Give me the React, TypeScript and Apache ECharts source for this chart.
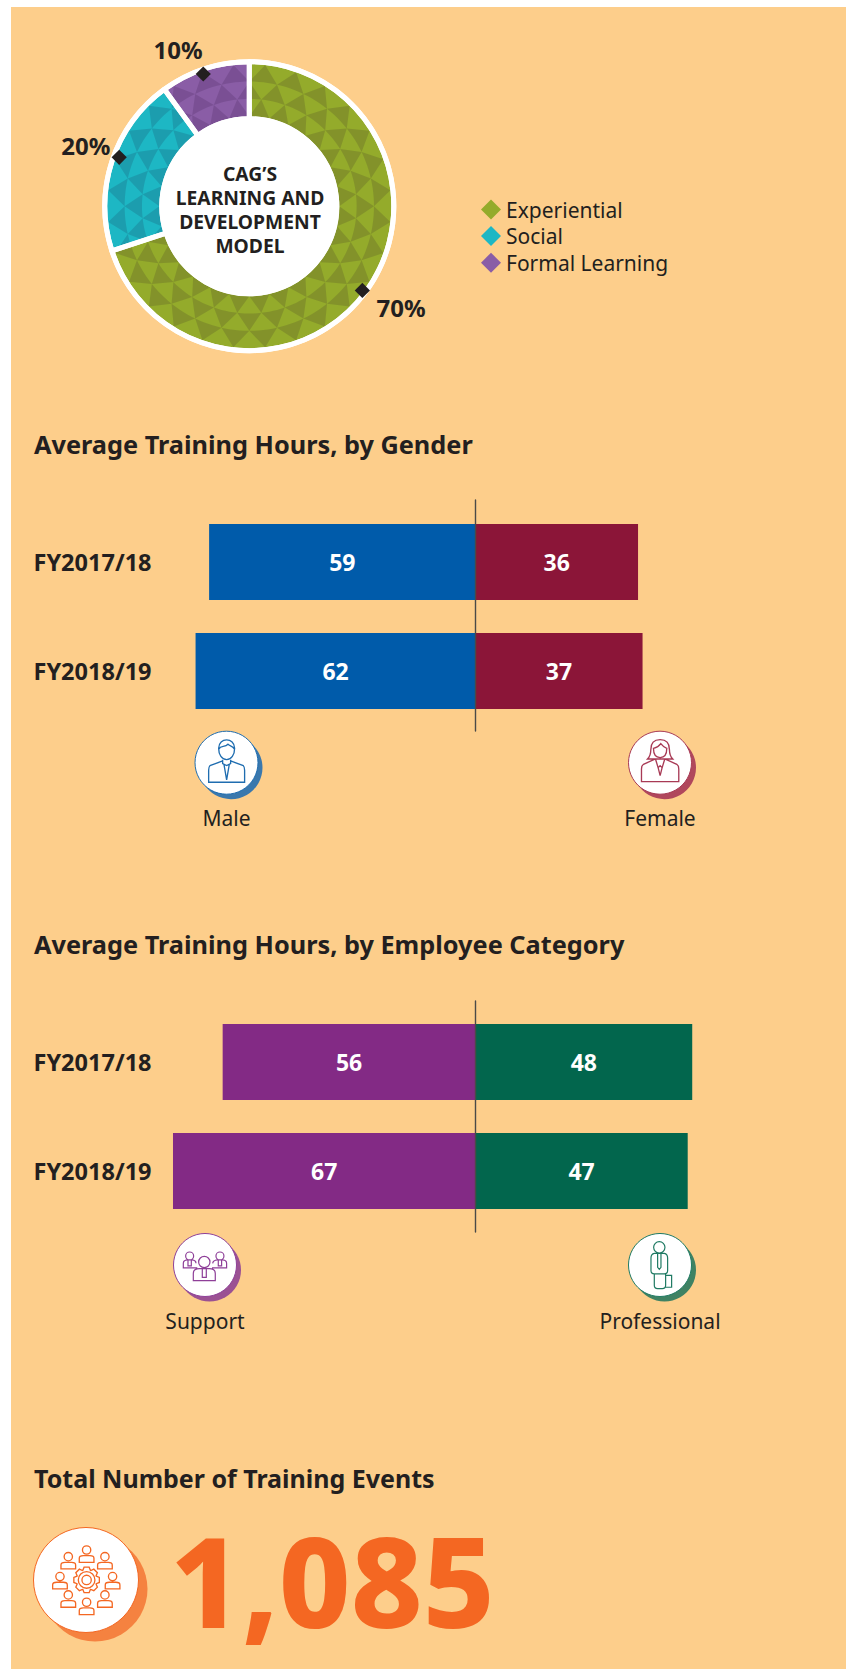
import React, { useEffect, useRef } from "react";
import * as echarts from "echarts";

const modelNames = ["Experiential", "Social", "Formal Learning"];
const modelValues = [70, 20, 10];
const modelColors = ["#94AB2B", "#1DB7C4", "#8A5DA6"];
const years = ["FY2017/18", "FY2018/19"];
const maleHours = [59, 62];
const femaleHours = [36, 37];
const supportHours = [56, 67];
const professionalHours = [48, 47];
const totalEvents = "1,085";

const FONT = "'Noto Sans', sans-serif";
const INK = "#231F20";
const CX = 249.3, CY = 206.2;
const R_IN = 90, R_OUT = 142;
const AXIS_X = 475.5, PX_PER_HOUR = 4.515, AXIS_SPAN = 80;
const GRID_LEFT = AXIS_X - PX_PER_HOUR * AXIS_SPAN;
const GRID_WIDTH = PX_PER_HOUR * AXIS_SPAN * 2;

const circ = (x: number, y: number, r: number) =>
  `M${x - r} ${y}a${r} ${r} 0 1 0 ${2 * r} 0a${r} ${r} 0 1 0 ${-2 * r} 0Z`;
const bust = (x: number, top: number, hw: number, h: number) =>
  `M${x - hw} ${top + h}V${top + h * 0.4}Q${x - hw} ${top} ${x - hw * 0.45} ${top}H${x + hw * 0.45}Q${x + hw} ${top} ${x + hw} ${top + h * 0.4}V${top + h}Z`;

const maleD =
  "M86 70C86 36 134 36 134 70C134 90 124 104 110 104C96 104 86 90 86 70Z" +
  "M87 72C92 60 104 68 114 58C120 64 128 62 133 72" +
  "M98 108L60 122Q56 126 56 136V172H164V136Q164 126 160 122L122 108" +
  "M98 104V116L110 122L122 116V104M102 118L110 165L118 118";
const femaleD =
  "M110 44C88 44 82 60 82 74C82 88 78 96 72 102H148C142 96 138 88 138 74C138 60 132 44 110 44Z" +
  "M90 70C100 68 108 62 112 56C118 64 124 68 130 70C130 88 122 98 110 98C98 98 90 88 90 70Z" +
  "M96 102L60 118Q54 122 54 132V170H166V132Q166 122 160 118L124 102" +
  "M96 102L104 128L110 122L116 128L124 102M104 128L110 152L116 128";
const supportD =
  circ(103, 102, 17) + bust(103, 122, 33, 36) + "M97 122V148H109V122" +
  circ(59, 84, 12) + "M82 120H40V106Q40 97 52 96H66Q78 97 78 106M54 96V114H64V96" +
  circ(150, 84, 12) + "M126 120H170V106Q170 97 158 96H142Q130 97 128 106M145 96V114H155V96";
const professionalD =
  circ(103, 58, 17) +
  "M88 76H118Q128 78 128 90V128Q128 138 118 138H88Q78 138 78 128V90Q78 78 88 76Z" +
  "M98 78V118L103 124L108 118V78" +
  "M88 138V172Q88 182 98 182H112Q122 182 122 172V138" +
  "M122 142H140V178H122";

const eventHeads = [[170, 75], [115, 95], [225, 95], [90, 155], [248, 155], [115, 210], [225, 210], [170, 232]];
let gearD = circ(170, 165, 25) + circ(170, 165, 14);
{
  const n = 8;
  const pts: string[] = [];
  for (let i = 0; i < n; i++) {
    const a = (i / n) * Math.PI * 2;
    const w = Math.PI / n;
    [[31, -w * 0.95], [39, -w * 0.5], [39, w * 0.5], [31, w * 0.95]].forEach(([r, d]) => {
      pts.push(`${(170 + r * Math.cos(a + d)).toFixed(1)} ${(165 + r * Math.sin(a + d)).toFixed(1)}`);
    });
  }
  gearD += "M" + pts.join("L") + "Z";
}
const eventsD = gearD + eventHeads.map(([x, y]) => circ(x, y, 12.5) + bust(x, y + 17, 22, 20)).join("");

echarts.graphic.registerShape("iconMale", echarts.graphic.extendPath(maleD, {}));
echarts.graphic.registerShape("iconFemale", echarts.graphic.extendPath(femaleD, {}));
echarts.graphic.registerShape("iconSupport", echarts.graphic.extendPath(supportD, {}));
echarts.graphic.registerShape("iconProfessional", echarts.graphic.extendPath(professionalD, {}));
echarts.graphic.registerShape("iconEvents", echarts.graphic.extendPath(eventsD, {}));

const txt = (text: string, x: number, y: number, size: number, weight: any, align = "left", fill = INK, extra: any = {}) => ({
  type: "text",
  z: 20,
  x,
  y,
  silent: true,
  style: { text, fill, font: `${weight} ${size}px ${FONT}`, textAlign: align, textVerticalAlign: "middle", ...extra },
});

const badge = (cx: number, cy: number, r: number, dx: number, dy: number, line: string, shade: string, shape: string, ox: number, oy: number, k: number, sw: number) => [
  { type: "circle", z: 20, silent: true, shape: { cx: cx + dx, cy: cy + dy, r }, style: { fill: shade } },
  { type: "circle", z: 21, silent: true, shape: { cx, cy, r }, style: { fill: "#fff", stroke: line, lineWidth: 1 } },
  { type: shape, z: 22, silent: true, x: ox, y: oy, scaleX: k, scaleY: k, style: { fill: "none", stroke: line, lineWidth: sw } },
];

const polar = (r: number, deg: number) => {
  const a = (deg * Math.PI) / 180;
  return [CX + r * Math.sin(a), CY - r * Math.cos(a)];
};

const ROWS = 3, DIVS = 28;
const triCells: number[][] = [];
for (let row = 0; row < ROWS; row++) for (let i = 0; i < DIVS; i++) triCells.push([row, i]);

const renderTriangle = (_: any, api: any) => {
  const row = api.value(0), i = api.value(1);
  const step = 360 / DIVS;
  const dr = (R_OUT - R_IN) / ROWS;
  const r0 = R_IN + dr * row;
  const r1 = r0 + dr;
  const a0 = i * step + (row % 2 ? step / 2 : 0);
  const pts: number[][] = [];
  for (let k = 0; k <= 6; k++) pts.push(polar(r0, a0 + (step * k) / 6));
  pts.push(polar(r1, a0 + step / 2));
  return { type: "polygon", shape: { points: pts }, style: { fill: "rgba(30,0,40,0.14)" }, silent: true };
};

const markerShift = [0.7, 2.6, -1.2];
const markerRadius = [141, 139, 140];
const labelRadius = [183, 174, 171];
const labelAngleShift = [-2, 2, -6.6];
const total = modelValues.reduce((a, b) => a + b, 0);
const renderMarker = (_: any, api: any) => {
  const idx = api.value(0);
  let before = 0;
  for (let i = 0; i < idx; i++) before += modelValues[i];
  const mid = ((before + modelValues[idx] / 2) / total) * 360;
  const [x, y] = polar(markerRadius[idx], mid + markerShift[idx]);
  const [lx, ly] = polar(labelRadius[idx], mid + labelAngleShift[idx]);
  const d = 7.6;
  return {
    type: "group",
    children: [
      { type: "polygon", shape: { points: [[x, y - d], [x + d, y], [x, y + d], [x - d, y]] }, style: { fill: INK } },
      { type: "text", x: lx, y: ly - 1, style: { text: `${modelValues[idx]}%`, fill: INK, font: `bold 24px ${FONT}`, textAlign: "center", textVerticalAlign: "middle" } },
    ],
  };
};

const hoursGrid = (top: number) => ({ left: GRID_LEFT, width: GRID_WIDTH, top, height: 218 });
const lineGrid = (top: number) => ({ left: GRID_LEFT, width: GRID_WIDTH, top, height: 231 });
const valueX = (gridIndex: number) => ({
  type: "value", gridIndex, min: -AXIS_SPAN, max: AXIS_SPAN, show: false, splitLine: { show: false },
});
const barY = (gridIndex: number) => ({
  type: "category", gridIndex, data: years, inverse: true,
  axisLine: { show: false }, axisTick: { show: false }, splitLine: { show: false },
  axisLabel: { align: "left", margin: GRID_LEFT - 33.5, color: INK, fontFamily: FONT, fontWeight: "bold", fontSize: 23.5 },
});
const centerY = (gridIndex: number) => ({
  type: "value", gridIndex, min: 0, max: 1, z: 10,
  axisLine: { show: true, onZero: true, lineStyle: { color: "#4A4A48", width: 1.4 } },
  axisTick: { show: false }, axisLabel: { show: false }, splitLine: { show: false },
});
const barSeries = (name: string, values: number[], sign: number, color: string, axis: number) => ({
  type: "bar", name, stack: "s" + axis, xAxisIndex: axis, yAxisIndex: axis, barWidth: 76, z: 3,
  data: values.map((v) => v * sign),
  itemStyle: { color },
  silent: true,
  label: {
    show: true, position: "inside", color: "#fff", fontFamily: FONT, fontWeight: "bold", fontSize: 23,
    formatter: (p: any) => String(Math.abs(p.value)),
  },
});

const option: any = {
  animation: false,
  textStyle: { fontFamily: FONT },
  legend: {
    orient: "vertical", left: 481, top: 199, padding: 0, itemWidth: 20, itemHeight: 20, itemGap: 5.6, itemStyle: { borderWidth: 0 },
    icon: "diamond", selectedMode: false,
    textStyle: { color: INK, fontFamily: FONT, fontSize: 21, padding: [0, 0, 0, 0] },
    data: modelNames.map((name, i) => ({ name, itemStyle: { color: modelColors[i] } })),
  },
  grid: [hoursGrid(507.5), lineGrid(500), hoursGrid(1007.5), lineGrid(1001)],
  xAxis: [valueX(0), valueX(1), valueX(2), valueX(3)],
  yAxis: [barY(0), centerY(1), barY(2), centerY(3)],
  series: [
    {
      type: "pie", z: 2, center: [CX, CY], radius: [R_IN, R_OUT], startAngle: 90, silent: true,
      label: { show: false }, labelLine: { show: false },
      data: modelNames.map((name, i) => ({ name, value: modelValues[i], itemStyle: { color: modelColors[i] } })),
    },
    { type: "custom", z: 3, coordinateSystem: "none", silent: true, clip: false, data: triCells, renderItem: renderTriangle },
    {
      type: "pie", z: 4, center: [CX, CY], radius: [R_IN - 2.5, R_OUT + 2.5], startAngle: 90, silent: true,
      label: { show: false }, labelLine: { show: false },
      itemStyle: { color: "rgba(0,0,0,0)", borderColor: "#fff", borderWidth: 5 },
      data: modelNames.map((name, i) => ({ name, value: modelValues[i] })),
    },
    { type: "custom", z: 5, coordinateSystem: "none", silent: true, data: modelValues.map((_, i) => [i]), renderItem: renderMarker },
    barSeries("Male", maleHours, -1, "#005BAA", 0),
    barSeries("Female", femaleHours, 1, "#8B1538", 0),
    barSeries("Support", supportHours, -1, "#832A85", 2),
    barSeries("Professional", professionalHours, 1, "#02664D", 2),
  ],
  graphic: {
    elements: [
      { type: "circle", z: 0, silent: true, shape: { cx: CX, cy: CY, r: R_OUT + 5 }, style: { fill: "#fff" } },
      txt("CAG\u2019S", 250, 173.5, 19.3, "bold", "center"),
      txt("LEARNING AND", 250, 197.5, 19.3, "bold", "center"),
      txt("DEVELOPMENT", 250, 221.5, 19.3, "bold", "center"),
      txt("MODEL", 250, 245.5, 19.3, "bold", "center"),
      txt("Average Training Hours, by Gender", 34, 443.5, 25.3, "bold"),
      txt("Average Training Hours, by Employee Category", 34, 943.5, 25.3, "bold"),
      txt("Total Number of Training Events", 34, 1477.5, 25, "bold"),
      ...badge(226.5, 762.7, 31.5, 4.5, 5, "#1F6DB0", "#3A78AD", "iconMale", 190, 725, 1 / 3, 4),
      ...badge(660, 762.7, 31.5, 4.5, 5, "#A83A55", "#B0475C", "iconFemale", 623.5, 725, 1 / 3, 4),
      ...badge(205, 1265, 31.5, 4.5, 5, "#8E3F98", "#9B5193", "iconSupport", 170, 1228, 1 / 3, 3.6),
      ...badge(660, 1265, 31.5, 4.5, 5, "#1F7A63", "#3F8263", "iconProfessional", 625, 1228, 1 / 3, 3.6),
      ...badge(86, 1580, 52.5, 9, 9, "#F46722", "#F58240", "iconEvents", 30, 1525, 1 / 3, 4),
      txt("Male", 226.5, 818, 21, "normal", "center"),
      txt("Female", 660, 818, 21, "normal", "center"),
      txt("Support", 205, 1321, 21, "normal", "center"),
      txt("Professional", 660, 1321, 21, "normal", "center"),
      txt(totalEvents, 170, 1579, 124.5, 800, "left", "#F46722"),
    ],
  },
};

export default function App() {
  const ref = useRef<HTMLDivElement>(null);
  useEffect(() => {
    const chart = echarts.init(ref.current!, undefined, { renderer: "svg" });
    chart.setOption(option);
    return () => chart.dispose();
  }, []);
  return (
    <div style={{ position: "fixed", left: 0, top: 0, width: 846, height: 1669, background: "#fff", overflow: "hidden" }}>
      <div style={{ position: "absolute", left: 11, top: 7, width: 835, height: 1662, background: "#FDCE8B" }} />
      <div ref={ref} style={{ position: "absolute", left: 0, top: 0, width: 846, height: 1669 }} />
    </div>
  );
}
